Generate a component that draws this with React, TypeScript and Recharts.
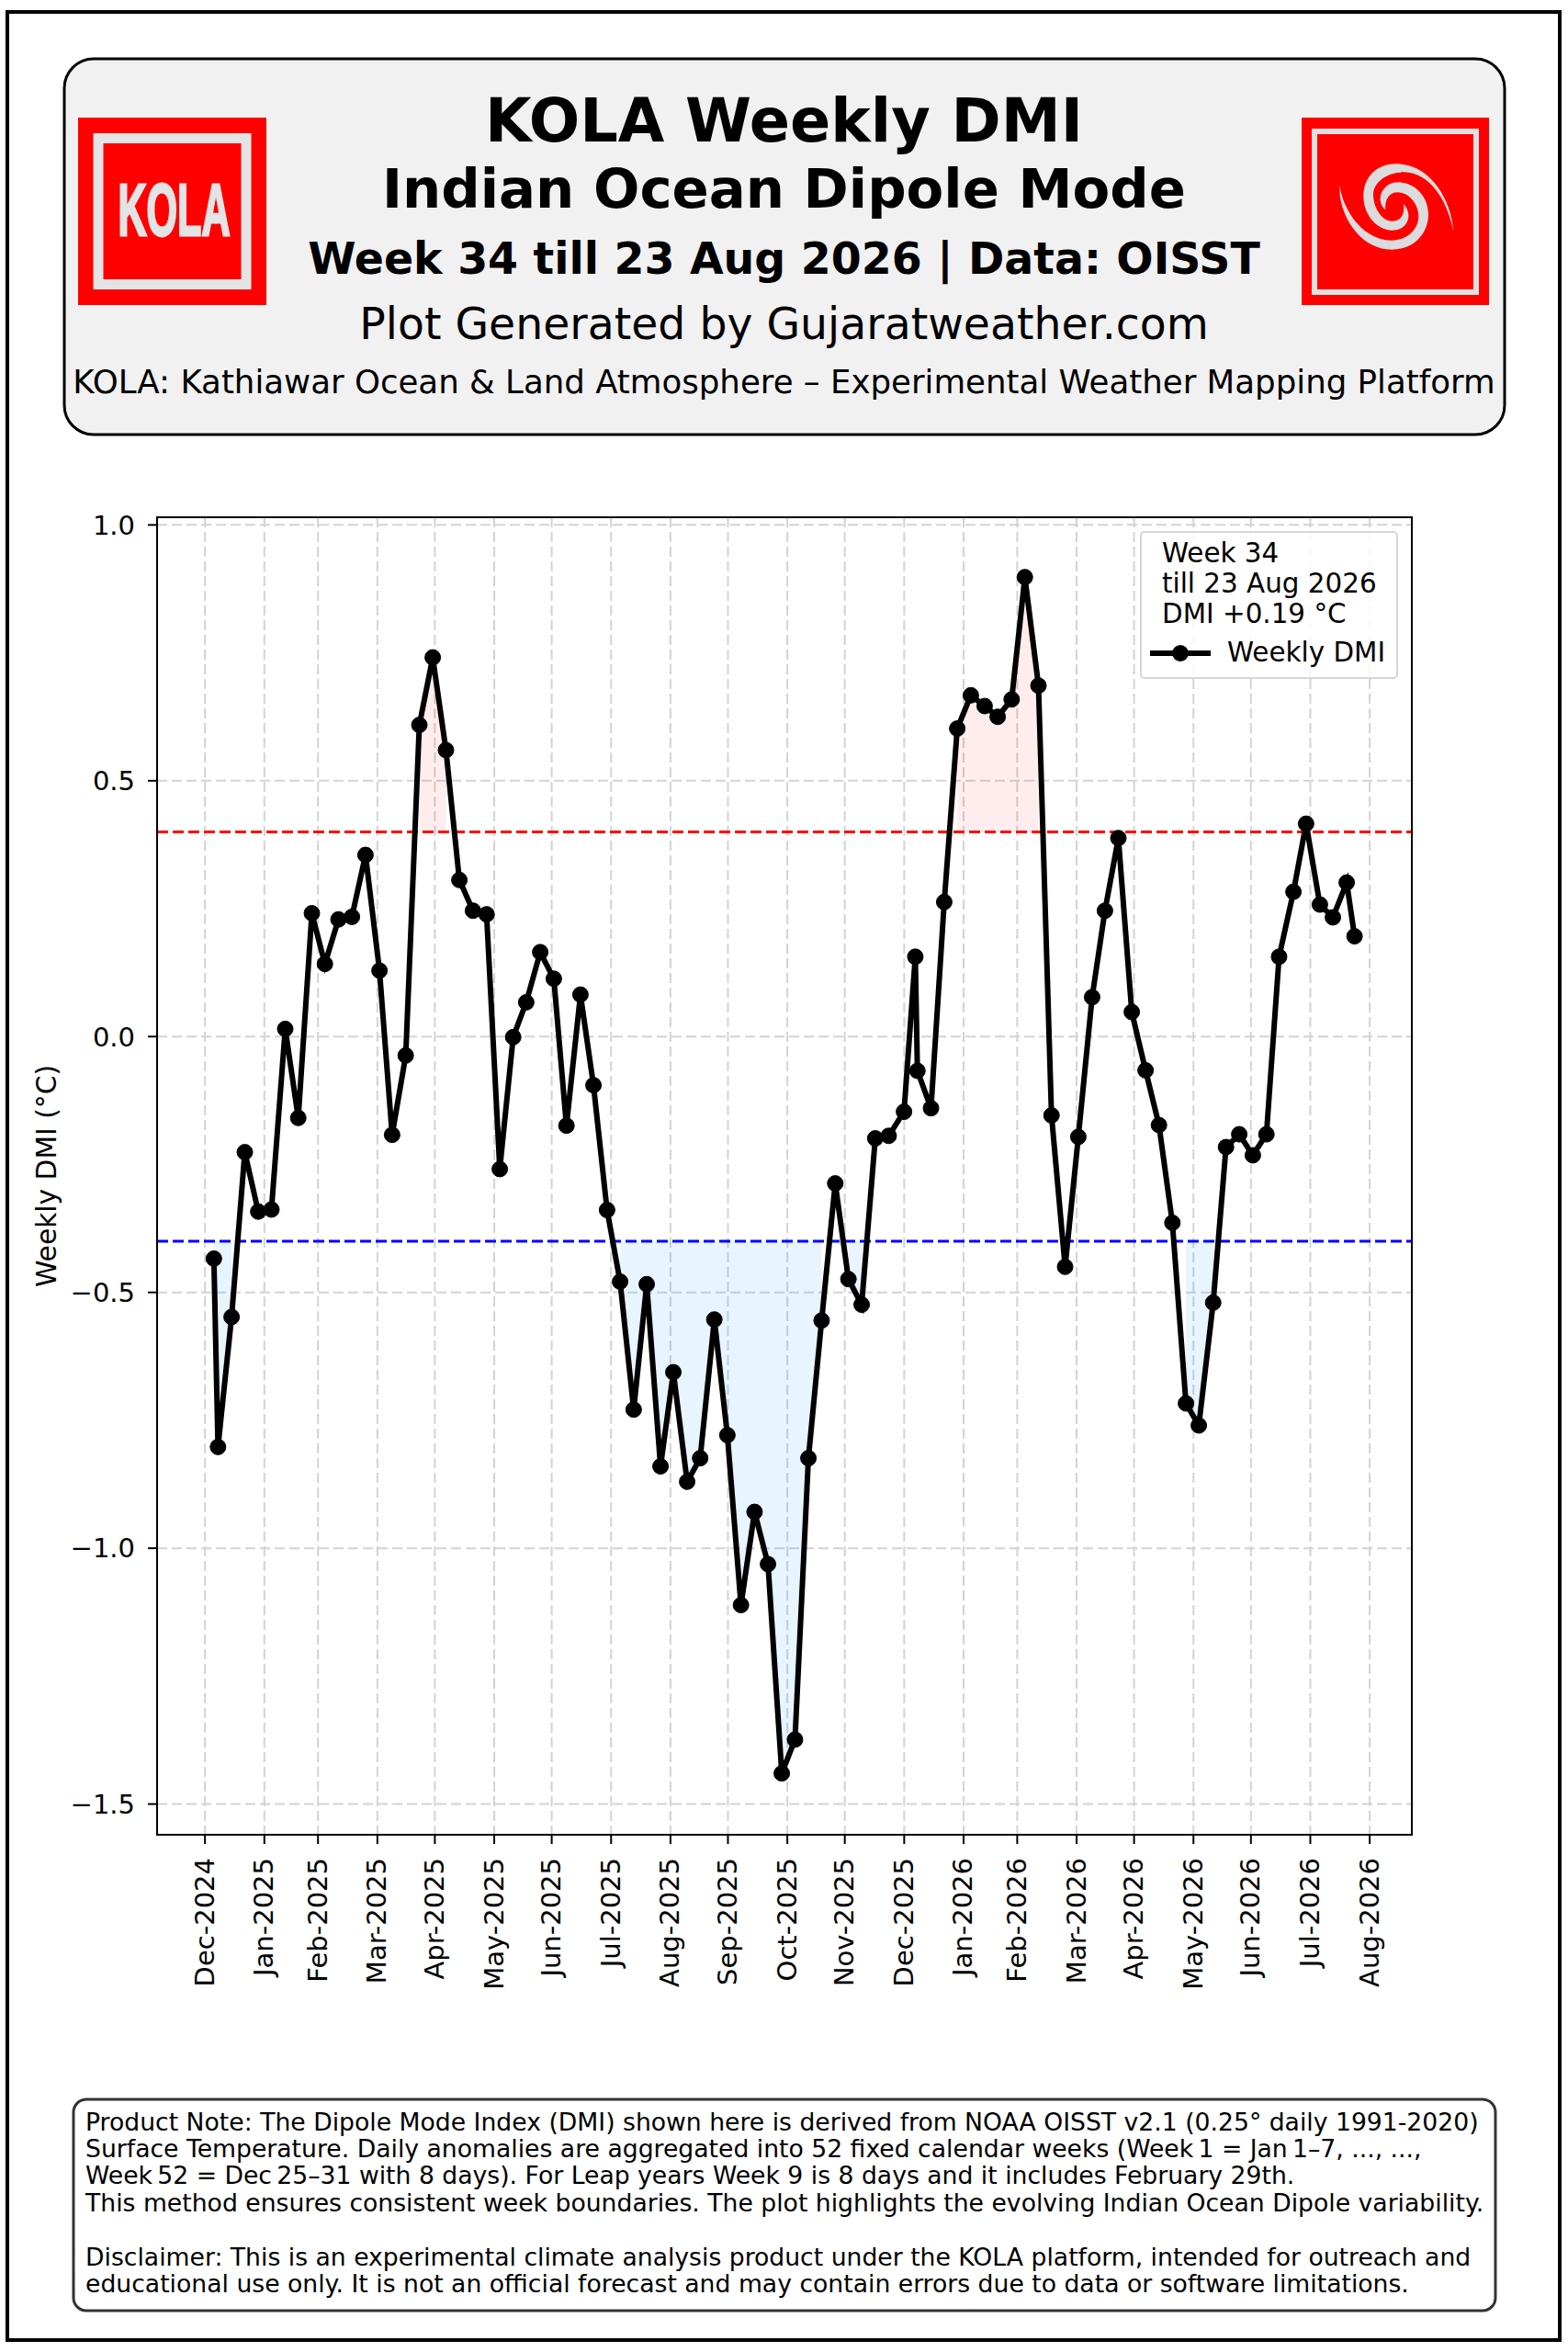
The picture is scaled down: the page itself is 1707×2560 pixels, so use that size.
import {
  Area,
  CartesianGrid,
  ComposedChart,
  Label,
  Legend,
  Line,
  ReferenceLine,
  XAxis,
  YAxis,
} from 'recharts'

// x position of each weekly value, in days after 1 Dec 2024
const weekDays = [
  4.65, 6.8, 13.9, 20.8, 27.8, 34.7, 41.9, 48.7, 55.8, 62.6, 69.7, 76.7, 83.8, 91.1, 97.7, 104.8,
  111.9, 118.9, 125.8, 132.8, 139.9, 147, 153.9, 160.9, 167.7, 175, 182.1, 188.7, 196, 202.8,
  209.9, 216.7, 223.8, 230.6, 237.8, 244.5, 251.7, 258.5, 265.9, 272.7, 279.8, 286.9, 293.9,
  301.1, 308, 315, 321.9, 329, 335.9, 342.8, 349.9, 356.9, 364.9, 370.8, 371.9, 379, 385.9,
  392.7, 399.8, 407, 413.8, 421.1, 428, 435.1, 441.9, 449, 455.9, 463.1, 469.8, 476.8, 483.8,
  491, 498, 505, 512.1, 518.8, 526.3, 533, 539.9, 547, 554.1, 560.7, 568.2, 574.8, 582, 588.8,
  596, 600.1,
]

const dmiValues = [
  -0.434, -0.802, -0.548, -0.226, -0.342, -0.338, 0.015, -0.159, 0.241, 0.142, 0.229, 0.234,
  0.355, 0.129, -0.192, -0.037, 0.609, 0.741, 0.56, 0.306, 0.246, 0.239, -0.259, -0.001, 0.067,
  0.165, 0.113, -0.174, 0.082, -0.095, -0.339, -0.479, -0.729, -0.484, -0.84, -0.656, -0.87,
  -0.824, -0.553, -0.779, -1.111, -0.929, -1.031, -1.44, -1.374, -0.824, -0.555, -0.287, -0.474,
  -0.524, -0.199, -0.194, -0.147, 0.156, -0.067, -0.14, 0.263, 0.602, 0.667, 0.646, 0.625, 0.659,
  0.898, 0.686, -0.154, -0.45, -0.196, 0.077, 0.246, 0.388, 0.048, -0.066, -0.173, -0.364, -0.717,
  -0.76, -0.52, -0.216, -0.191, -0.232, -0.191, 0.156, 0.283, 0.416, 0.258, 0.233, 0.301, 0.196,
]

const monthTicks = [
  0, 31, 59, 90, 120, 151, 181, 212, 243, 273, 304, 334, 365, 396, 424, 455, 485, 516, 546, 577, 608,
]
const monthLabels = [
  'Dec-2024', 'Jan-2025', 'Feb-2025', 'Mar-2025', 'Apr-2025', 'May-2025', 'Jun-2025', 'Jul-2025',
  'Aug-2025', 'Sep-2025', 'Oct-2025', 'Nov-2025', 'Dec-2025', 'Jan-2026', 'Feb-2026', 'Mar-2026',
  'Apr-2026', 'May-2026', 'Jun-2026', 'Jul-2026', 'Aug-2026',
]
const dmiTicks = [-1.5, -1, -0.5, 0, 0.5, 1]

const POSITIVE_IOD = 0.4
const NEGATIVE_IOD = -0.4

const noteLines = [
  'Product Note: The Dipole Mode Index (DMI) shown here is derived from NOAA OISST v2.1 (0.25° daily 1991-2020)',
  'Surface Temperature. Daily anomalies are aggregated into 52 fixed calendar weeks (Week\u20091 = Jan\u20091–7, ..., ...,',
  'Week\u200952 = Dec\u200925–31 with 8 days). For Leap years Week 9 is 8 days and it includes February 29th.',
  'This method ensures consistent week boundaries. The plot highlights the evolving Indian Ocean Dipole variability.',
  '',
  'Disclaimer: This is an experimental climate analysis product under the KOLA platform, intended for outreach and',
  'educational use only. It is not an official forecast and may contain errors due to data or software limitations.',
]

const FONT = '"DejaVu Sans", sans-serif'

const chartData = weekDays.map((day, i) => {
  const dmi = dmiValues[i]
  return {
    day,
    dmi,
    warm: dmi > POSITIVE_IOD ? [POSITIVE_IOD, dmi] : null,
    cool: dmi < NEGATIVE_IOD ? [NEGATIVE_IOD, dmi] : null,
  }
})

function MonthTick({ x, y, payload }: any) {
  return (
    <text
      transform={`translate(${x + 9.5},${y}) rotate(-90)`}
      textAnchor="end"
      fontFamily={FONT}
      fontSize={29}
      fill="#000"
    >
      {monthLabels[monthTicks.indexOf(payload.value)]}
    </text>
  )
}

function LegendBox({ payload }: any) {
  const name = payload?.find((p: any) => p.dataKey === 'dmi')?.value ?? 'Weekly DMI'
  return (
    <div
      style={{
        width: 277,
        height: 157,
        boxSizing: 'content-box',
        border: '2px solid #d6d6d6',
        borderRadius: 5,
        background: 'rgba(255,255,255,0.85)',
        position: 'relative',
        fontFamily: FONT,
        fontSize: 29.4,
        color: '#000',
      }}
    >
      <div style={{ position: 'absolute', left: 22, top: 6, lineHeight: '33px', whiteSpace: 'nowrap' }}>
        Week 34
        <br />
        till 23 Aug 2026
        <br />
        DMI +0.19 °C
      </div>
      <svg width={70} height={24} style={{ position: 'absolute', left: 8, top: 119 }}>
        <line x1={1} x2={67} y1={12} y2={12} stroke="#000" strokeWidth={6} />
        <circle cx={34} cy={12} r={9} fill="#000" />
      </svg>
      <div style={{ position: 'absolute', left: 93, top: 114, lineHeight: '33px', whiteSpace: 'nowrap' }}>{name}</div>
    </div>
  )
}

function KolaLogo() {
  return (
    <g>
      <rect x={85} y={128} width={205} height={204} fill="#ff0000" />
      <rect x={107} y={150.5} width={161} height={159} fill="none" stroke="#e4e4e4" strokeWidth={11} />
      <text
        x={189.5}
        y={256}
        textAnchor="middle"
        fontFamily='"Liberation Sans Narrow", "Liberation Sans", sans-serif'
        fontWeight="bold"
        fontSize={80}
        textLength={122}
        lengthAdjust="spacingAndGlyphs"
        fill="#e4e4e4"
        stroke="#e4e4e4"
        strokeWidth={3}
      >
        KOLA
      </text>
    </g>
  )
}

function SpiralLogo() {
  return (
    <g>
      <rect x={1417} y={128} width={204} height={204} fill="#ff0000" />
      <rect x={1431} y={143} width={176} height={175} fill="none" stroke="#e0e0e0" strokeWidth={6} />
      <g transform="translate(1400,110) scale(0.3333)" fill="#dcdcdc">
        <path d="M547 425 C540 320 470 205 360 205 C290 205 253 255 253 310 C253 375 300 422 345 422 C385 422 402 395 400 370 C398 352 390 342 383 335 C388 355 385 392 345 392 C315 392 285 350 285 305 C285 265 330 232 385 232 C470 235 525 320 547 425 Z" />
        <path d="M175 275 C170 370 240 485 345 485 C420 485 465 430 465 370 C465 310 420 265 365 265 C330 265 305 295 308 325 C310 340 318 350 325 355 C322 325 335 298 365 298 C400 298 433 335 433 375 C433 420 395 455 345 455 C260 455 190 370 175 275 Z" />
      </g>
    </g>
  )
}

function PageFurniture() {
  return (
    <svg width={1707} height={2560} style={{ position: 'absolute', left: 0, top: 0 }}>
      <rect x={8} y={13} width={1690} height={2534} fill="#fff" stroke="#000" strokeWidth={4} />
      <rect x={70} y={64} width={1568} height={409} rx={32} fill="#f1f1f1" stroke="#000" strokeWidth={3} />
      <KolaLogo />
      <SpiralLogo />
      <g fontFamily={FONT} textAnchor="middle" fill="#000">
        <text x={853.5} y={154} fontSize={65.3} fontWeight="bold">KOLA Weekly DMI</text>
        <text x={853.5} y={226} fontSize={59.3} fontWeight="bold">Indian Ocean Dipole Mode</text>
        <text x={853.5} y={298} fontSize={47.4} fontWeight="bold">Week 34 till 23 Aug 2026 | Data: OISST</text>
        <text x={853.5} y={369} fontSize={47.3}>Plot Generated by Gujaratweather.com</text>
        <text x={853.5} y={427.5} fontSize={35.6}>KOLA: Kathiawar Ocean &amp; Land Atmosphere – Experimental Weather Mapping Platform</text>
      </g>
      <rect x={80} y={2285} width={1548} height={230} rx={14} fill="#fff" stroke="#333" strokeWidth={3} />
      <g fontFamily={FONT} fontSize={26.65} fill="#000">
        {noteLines.map((line, i) => (
          <text key={i} x={93} y={2318.5 + i * 29.4}>{line}</text>
        ))}
      </g>
    </svg>
  )
}

export default function App() {
  return (
    <div style={{ position: 'absolute', left: 0, top: 0, width: 1707, height: 2560, background: '#fff' }}>
      <PageFurniture />
      <div style={{ position: 'absolute', left: 0, top: 0 }}>
        <ComposedChart
          width={1707}
          height={2560}
          data={chartData}
          margin={{ top: 563, right: 170, bottom: 433, left: 0 }}
        >
          <CartesianGrid stroke="#d3d3d3" strokeWidth={2} strokeDasharray="11 5" />
          <XAxis
            dataKey="day"
            type="number"
            domain={[-25, 630]}
            allowDataOverflow
            ticks={monthTicks}
            interval={0}
            height={130}
            axisLine={false}
            tickSize={10}
            tickMargin={15}
            tickLine={{ stroke: '#000', strokeWidth: 2 }}
            tick={MonthTick}
          />
          <YAxis
            type="number"
            width={171}
            domain={[-1.56, 1.015]}
            allowDataOverflow
            ticks={dmiTicks}
            interval={0}
            axisLine={false}
            tickSize={10}
            tickMargin={14}
            tickLine={{ stroke: '#000', strokeWidth: 2 }}
            tick={{ fontFamily: FONT, fontSize: 29, fill: '#000' }}
            tickFormatter={(v: number) => v.toFixed(1).replace('-', '\u2212')}
          >
            <Label
              value="Weekly DMI (°C)"
              angle={-90}
              position="insideLeft"
              offset={50}
              textAnchor="middle"
              style={{ fontFamily: FONT, fontSize: 29.7, fill: '#000', textAnchor: 'middle' }}
            />
          </YAxis>
          <Area
            dataKey="warm"
            stroke="none"
            fill="#ff0000"
            fillOpacity={0.07}
            dot={false}
            activeDot={false}
            legendType="none"
            isAnimationActive={false}
          />
          <Area
            dataKey="cool"
            stroke="none"
            fill="#1e90ff"
            fillOpacity={0.1}
            dot={false}
            activeDot={false}
            legendType="none"
            isAnimationActive={false}
          />
          <ReferenceLine y={POSITIVE_IOD} stroke="#ff0000" strokeWidth={3} strokeDasharray="12 5" />
          <ReferenceLine y={NEGATIVE_IOD} stroke="#0000ff" strokeWidth={3} strokeDasharray="12 5" />
          <Line
            dataKey="dmi"
            name="Weekly DMI"
            stroke="#000"
            strokeWidth={6}
            dot={{ r: 8.5, fill: '#000', stroke: '#000', strokeWidth: 1 }}
            activeDot={false}
            isAnimationActive={false}
          />
          <Legend
            layout="vertical"
            align="center"
            verticalAlign="middle"
            wrapperStyle={{ left: 1241, top: 578, width: 'auto' }}
            content={<LegendBox />}
          />
        </ComposedChart>
      </div>
      <div
        style={{
          position: 'absolute',
          left: 170,
          top: 562,
          width: 1364,
          height: 1432,
          border: '2px solid #000',
          pointerEvents: 'none',
        }}
      />
    </div>
  )
}
